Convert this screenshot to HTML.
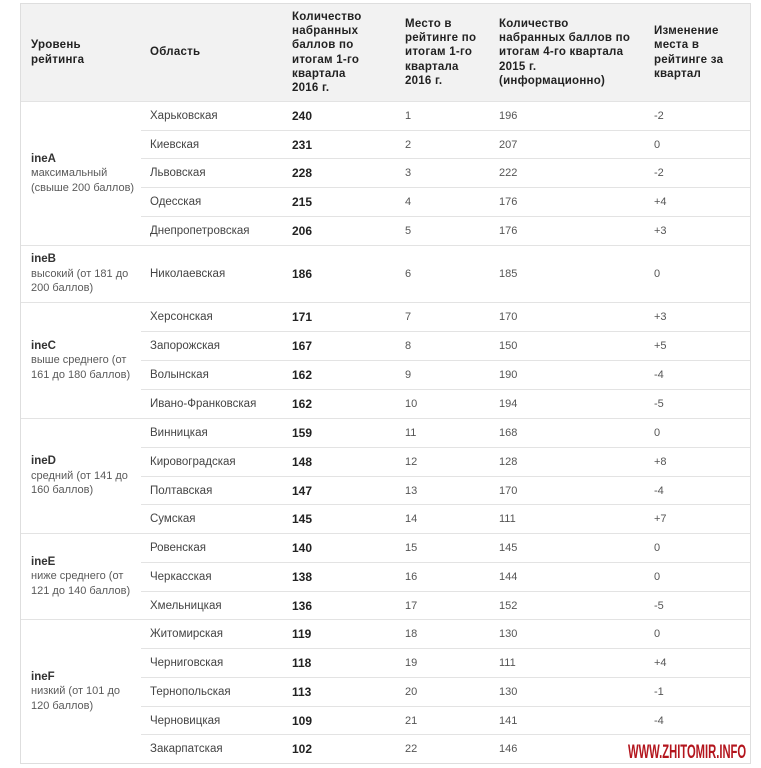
<!DOCTYPE html>
<html><head><meta charset="utf-8">
<style>
html,body{margin:0;padding:0;background:#fff;}
body{width:761px;height:768px;position:relative;overflow:hidden;font-family:"Liberation Sans","Noto Sans CJK SC",sans-serif;}
.tbl{position:absolute;left:20px;top:3px;width:729px;height:759px;border:1px solid #dedede;}
.hdr{position:absolute;left:21px;top:4px;width:729px;height:97px;background:#f2f2f2;}
.h{position:absolute;top:4px;height:97px;display:flex;align-items:center;font-weight:bold;font-size:11.5px;line-height:14.2px;color:#222;white-space:nowrap;letter-spacing:0.25px;}
.g{position:absolute;left:21px;width:120px;display:flex;align-items:center;padding-left:10px;box-sizing:border-box;font-size:11px;line-height:14.5px;color:#5a5a5a;border-top:1px solid #e3e3e3;white-space:nowrap;}
.g b{color:#333;font-size:11.5px;}
.r{position:absolute;left:141px;width:609px;border-top:1px solid #e3e3e3;font-size:11px;color:#555;}
.r span{position:absolute;top:0;white-space:nowrap;}
.r .c2{left:9px;color:#444;font-size:11.5px;}
.r .c3{left:151px;font-weight:bold;color:#222;font-size:12px;}
.r .c4{left:264px;}
.r .c5{left:358px;}
.r .c6{left:513px;}
.gl{position:absolute;left:21px;width:729px;height:0;border-top:1px solid #e3e3e3;}
.wm{position:absolute;left:628px;top:741px;font-weight:bold;font-size:19.5px;color:#b3151d;transform:scaleX(0.575);transform-origin:0 0;white-space:nowrap;}
</style></head><body>
<div class="tbl"></div>
<div class="hdr"></div>
<div class="h" style="left:31px">Уровень<br>рейтинга</div>
<div class="h" style="left:150px">Область</div>
<div class="h" style="left:292px">Количество<br>набранных<br>баллов по<br>итогам 1-го<br>квартала<br>2016 г.</div>
<div class="h" style="left:405px">Место в<br>рейтинге по<br>итогам 1-го<br>квартала<br>2016 г.</div>
<div class="h" style="left:499px">Количество<br>набранных баллов по<br>итогам 4-го квартала<br>2015 г.<br>(информационно)</div>
<div class="h" style="left:654px">Изменение<br>места в<br>рейтинге за<br>квартал</div>

<!-- Group A -->
<div class="g" style="top:101px;height:144px"><div><b>ineA</b><br>максимальный<br>(свыше 200 баллов)</div></div>
<div class="r" style="top:101px;height:29px;line-height:29px"><span class="c2">Харьковская</span><span class="c3">240</span><span class="c4">1</span><span class="c5">196</span><span class="c6">-2</span></div>
<div class="r" style="top:130px;height:28px;line-height:28px"><span class="c2">Киевская</span><span class="c3">231</span><span class="c4">2</span><span class="c5">207</span><span class="c6">0</span></div>
<div class="r" style="top:158px;height:29px;line-height:29px"><span class="c2">Львовская</span><span class="c3">228</span><span class="c4">3</span><span class="c5">222</span><span class="c6">-2</span></div>
<div class="r" style="top:187px;height:29px;line-height:29px"><span class="c2">Одесская</span><span class="c3">215</span><span class="c4">4</span><span class="c5">176</span><span class="c6">+4</span></div>
<div class="r" style="top:216px;height:29px;line-height:29px"><span class="c2">Днепропетровская</span><span class="c3">206</span><span class="c4">5</span><span class="c5">176</span><span class="c6">+3</span></div>

<!-- Group B -->
<div class="gl" style="top:245px"></div>
<div class="g" style="top:245px;height:57px"><div><b>ineB</b><br>высокий (от 181 до<br>200 баллов)</div></div>
<div class="r" style="top:245px;height:57px;line-height:57px"><span class="c2">Николаевская</span><span class="c3">186</span><span class="c4">6</span><span class="c5">185</span><span class="c6">0</span></div>

<!-- Group C -->
<div class="gl" style="top:302px"></div>
<div class="g" style="top:302px;height:116px"><div><b>ineC</b><br>выше среднего (от<br>161 до 180 баллов)</div></div>
<div class="r" style="top:302px;height:29px;line-height:29px"><span class="c2">Херсонская</span><span class="c3">171</span><span class="c4">7</span><span class="c5">170</span><span class="c6">+3</span></div>
<div class="r" style="top:331px;height:29px;line-height:29px"><span class="c2">Запорожская</span><span class="c3">167</span><span class="c4">8</span><span class="c5">150</span><span class="c6">+5</span></div>
<div class="r" style="top:360px;height:29px;line-height:29px"><span class="c2">Волынская</span><span class="c3">162</span><span class="c4">9</span><span class="c5">190</span><span class="c6">-4</span></div>
<div class="r" style="top:389px;height:29px;line-height:29px"><span class="c2">Ивано-Франковская</span><span class="c3">162</span><span class="c4">10</span><span class="c5">194</span><span class="c6">-5</span></div>

<!-- Group D -->
<div class="gl" style="top:418px"></div>
<div class="g" style="top:418px;height:115px"><div><b>ineD</b><br>средний (от 141 до<br>160 баллов)</div></div>
<div class="r" style="top:418px;height:29px;line-height:29px"><span class="c2">Винницкая</span><span class="c3">159</span><span class="c4">11</span><span class="c5">168</span><span class="c6">0</span></div>
<div class="r" style="top:447px;height:29px;line-height:29px"><span class="c2">Кировоградская</span><span class="c3">148</span><span class="c4">12</span><span class="c5">128</span><span class="c6">+8</span></div>
<div class="r" style="top:476px;height:28px;line-height:28px"><span class="c2">Полтавская</span><span class="c3">147</span><span class="c4">13</span><span class="c5">170</span><span class="c6">-4</span></div>
<div class="r" style="top:504px;height:29px;line-height:29px"><span class="c2">Сумская</span><span class="c3">145</span><span class="c4">14</span><span class="c5">111</span><span class="c6">+7</span></div>

<!-- Group E -->
<div class="gl" style="top:533px"></div>
<div class="g" style="top:533px;height:86px"><div><b>ineE</b><br>ниже среднего (от<br>121 до 140 баллов)</div></div>
<div class="r" style="top:533px;height:29px;line-height:29px"><span class="c2">Ровенская</span><span class="c3">140</span><span class="c4">15</span><span class="c5">145</span><span class="c6">0</span></div>
<div class="r" style="top:562px;height:29px;line-height:29px"><span class="c2">Черкасская</span><span class="c3">138</span><span class="c4">16</span><span class="c5">144</span><span class="c6">0</span></div>
<div class="r" style="top:591px;height:28px;line-height:28px"><span class="c2">Хмельницкая</span><span class="c3">136</span><span class="c4">17</span><span class="c5">152</span><span class="c6">-5</span></div>

<!-- Group F -->
<div class="gl" style="top:619px"></div>
<div class="g" style="top:619px;height:144px"><div><b>ineF</b><br>низкий (от 101 до<br>120 баллов)</div></div>
<div class="r" style="top:619px;height:29px;line-height:29px"><span class="c2">Житомирская</span><span class="c3">119</span><span class="c4">18</span><span class="c5">130</span><span class="c6">0</span></div>
<div class="r" style="top:648px;height:29px;line-height:29px"><span class="c2">Черниговская</span><span class="c3">118</span><span class="c4">19</span><span class="c5">111</span><span class="c6">+4</span></div>
<div class="r" style="top:677px;height:29px;line-height:29px"><span class="c2">Тернопольская</span><span class="c3">113</span><span class="c4">20</span><span class="c5">130</span><span class="c6">-1</span></div>
<div class="r" style="top:706px;height:28px;line-height:28px"><span class="c2">Черновицкая</span><span class="c3">109</span><span class="c4">21</span><span class="c5">141</span><span class="c6">-4</span></div>
<div class="r" style="top:734px;height:29px;line-height:29px"><span class="c2">Закарпатская</span><span class="c3">102</span><span class="c4">22</span><span class="c5">146</span></div>

<div class="wm">WWW.ZHITOMIR.INFO</div>
</body></html>
